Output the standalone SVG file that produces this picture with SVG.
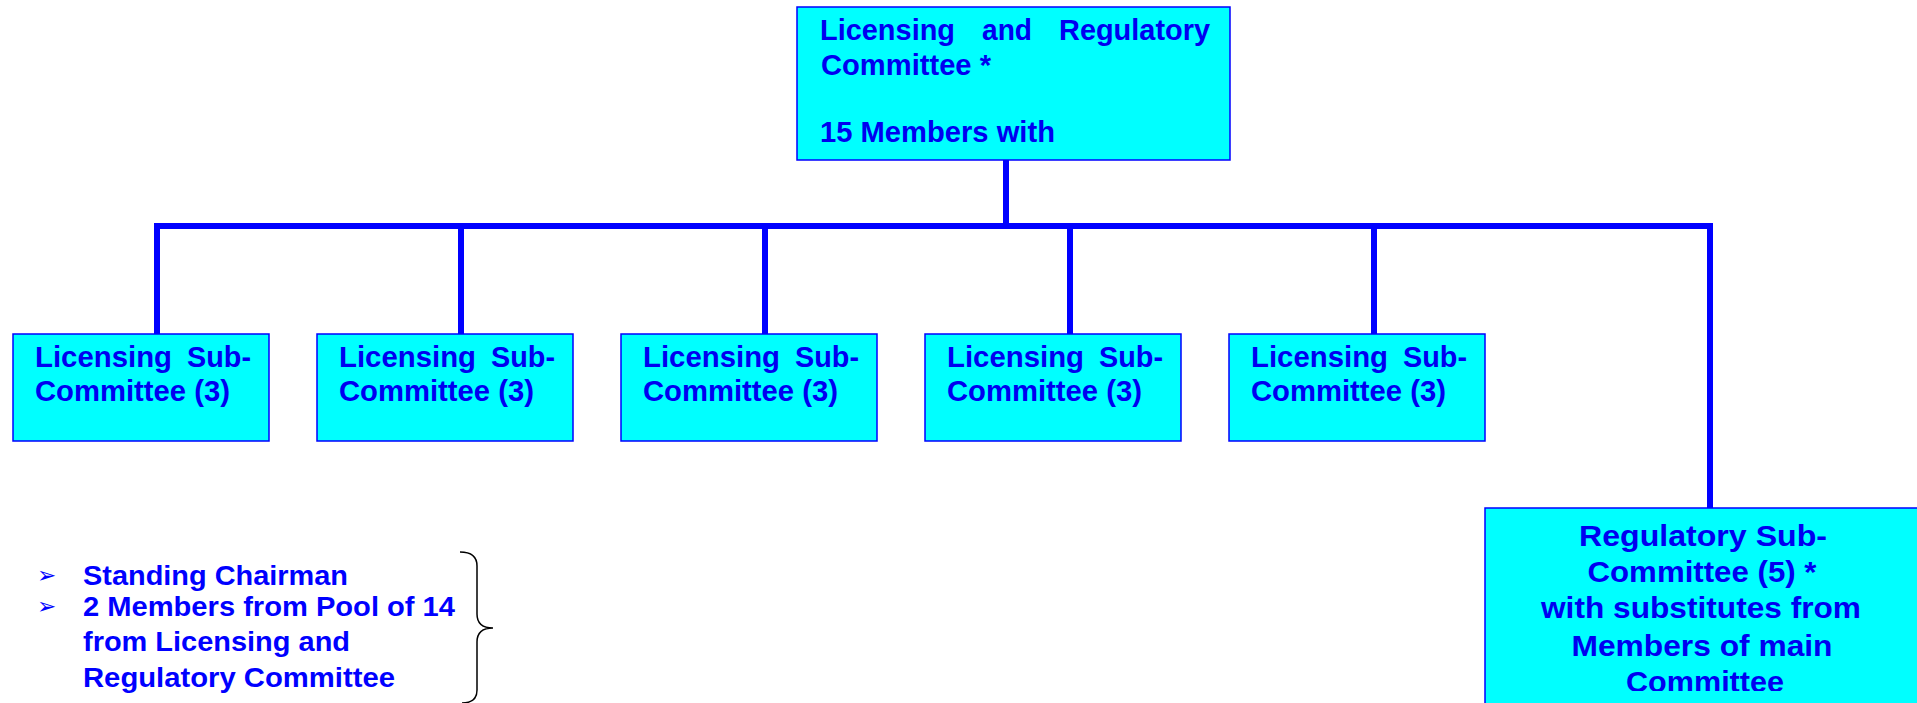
<svg xmlns="http://www.w3.org/2000/svg" width="1917" height="703" viewBox="0 0 1917 703">
<style>
.box{fill:#00FFFF;stroke:#0000FF;stroke-width:1.5}
.t{font-family:"Liberation Sans",Arial,sans-serif;font-weight:bold;font-size:29px;fill:#0000F0}
.b{font-family:"Liberation Sans",Arial,sans-serif;font-weight:bold;font-size:27px;fill:#0000FF}
.ar{font-family:"DejaVu Sans",sans-serif;font-size:23px;fill:#0000FF}
.c{fill:none;stroke:#0000FF;stroke-width:6;stroke-linecap:butt}
</style>
<defs>
<clipPath id="regclip"><rect x="1480" y="500" width="437" height="191"/></clipPath>
</defs>
<rect width="1917" height="703" fill="#FFFFFF"/>
<g id="connectors">
<line class="c" x1="1006" y1="160" x2="1006" y2="226"/>
<line class="c" x1="154" y1="226" x2="1713" y2="226"/>
<line class="c" x1="157" y1="223" x2="157" y2="334"/>
<line class="c" x1="461" y1="226" x2="461" y2="334"/>
<line class="c" x1="765" y1="226" x2="765" y2="334"/>
<line class="c" x1="1070" y1="226" x2="1070" y2="334"/>
<line class="c" x1="1374" y1="226" x2="1374" y2="334"/>
<line class="c" x1="1710" y1="223" x2="1710" y2="508"/>
</g>
<g id="main">
<rect class="box" x="797" y="7" width="433" height="153"/>
<text class="t" x="820" y="40" textLength="135" lengthAdjust="spacingAndGlyphs">Licensing</text>
<text class="t" x="982" y="40" textLength="50" lengthAdjust="spacingAndGlyphs">and</text>
<text class="t" x="1059" y="40" textLength="151" lengthAdjust="spacingAndGlyphs">Regulatory</text>
<text class="t" x="821" y="75" textLength="170" lengthAdjust="spacingAndGlyphs">Committee *</text>
<text class="t" x="820" y="142" textLength="235" lengthAdjust="spacingAndGlyphs">15 Members with</text>
</g>
<g id="sub1">
<rect class="box" x="13" y="334" width="256" height="107"/>
<text class="t" x="35" y="367" textLength="137" lengthAdjust="spacingAndGlyphs">Licensing</text>
<text class="t" x="187" y="367" textLength="64" lengthAdjust="spacingAndGlyphs">Sub-</text>
<text class="t" x="35" y="401" textLength="195" lengthAdjust="spacingAndGlyphs">Committee (3)</text>
</g>
<g id="sub2">
<rect class="box" x="317" y="334" width="256" height="107"/>
<text class="t" x="339" y="367" textLength="137" lengthAdjust="spacingAndGlyphs">Licensing</text>
<text class="t" x="491" y="367" textLength="64" lengthAdjust="spacingAndGlyphs">Sub-</text>
<text class="t" x="339" y="401" textLength="195" lengthAdjust="spacingAndGlyphs">Committee (3)</text>
</g>
<g id="sub3">
<rect class="box" x="621" y="334" width="256" height="107"/>
<text class="t" x="643" y="367" textLength="137" lengthAdjust="spacingAndGlyphs">Licensing</text>
<text class="t" x="795" y="367" textLength="64" lengthAdjust="spacingAndGlyphs">Sub-</text>
<text class="t" x="643" y="401" textLength="195" lengthAdjust="spacingAndGlyphs">Committee (3)</text>
</g>
<g id="sub4">
<rect class="box" x="925" y="334" width="256" height="107"/>
<text class="t" x="947" y="367" textLength="137" lengthAdjust="spacingAndGlyphs">Licensing</text>
<text class="t" x="1099" y="367" textLength="64" lengthAdjust="spacingAndGlyphs">Sub-</text>
<text class="t" x="947" y="401" textLength="195" lengthAdjust="spacingAndGlyphs">Committee (3)</text>
</g>
<g id="sub5">
<rect class="box" x="1229" y="334" width="256" height="107"/>
<text class="t" x="1251" y="367" textLength="137" lengthAdjust="spacingAndGlyphs">Licensing</text>
<text class="t" x="1403" y="367" textLength="64" lengthAdjust="spacingAndGlyphs">Sub-</text>
<text class="t" x="1251" y="401" textLength="195" lengthAdjust="spacingAndGlyphs">Committee (3)</text>
</g>
<g id="regulatory">
<rect class="box" x="1485" y="508" width="440" height="200"/>
<g clip-path="url(#regclip)" text-anchor="middle">
<text class="t" x="1703" y="546" textLength="248" lengthAdjust="spacingAndGlyphs">Regulatory Sub-</text>
<text class="t" x="1702" y="582" textLength="229" lengthAdjust="spacingAndGlyphs">Committee (5) *</text>
<text class="t" x="1701" y="618" textLength="320" lengthAdjust="spacingAndGlyphs">with substitutes from</text>
<text class="t" x="1702" y="656" textLength="261" lengthAdjust="spacingAndGlyphs">Members of main</text>
<text class="t" x="1705" y="692" textLength="158" lengthAdjust="spacingAndGlyphs">Committee</text>
</g>
</g>
<g id="notes">
<text class="ar" x="37" y="583">➢</text>
<text class="ar" x="37" y="614">➢</text>
<text class="b" x="83" y="585" textLength="265" lengthAdjust="spacingAndGlyphs">Standing Chairman</text>
<text class="b" x="83" y="616" textLength="372" lengthAdjust="spacingAndGlyphs">2 Members from Pool of 14</text>
<text class="b" x="83" y="651" textLength="267" lengthAdjust="spacingAndGlyphs">from Licensing and</text>
<text class="b" x="83" y="687" textLength="312" lengthAdjust="spacingAndGlyphs">Regulatory Committee</text>
<path d="M460 552 Q477 552 477 566 L477 614 Q477 628 493 628 Q477 628 477 642 L477 690 Q477 703 462 703" fill="none" stroke="#000000" stroke-width="1.5"/>
</g>
</svg>
